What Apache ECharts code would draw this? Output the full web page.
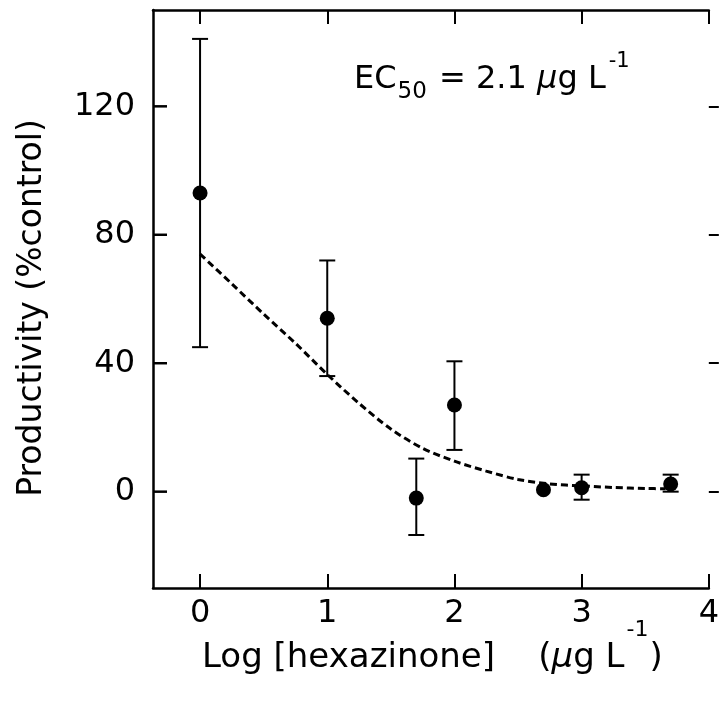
<!DOCTYPE html>
<html>
<head>
<meta charset="utf-8">
<script src="https://cdn.jsdelivr.net/npm/echarts@6.0.0/dist/echarts.min.js"></script>
<style>
html,body{margin:0;padding:0;background:#fff;}
#chart{width:722px;height:702px;}
</style>
</head>
<body>
<div id="chart"></div>
<script>
// Data points (log concentration, productivity % of control)
const pointX = [0, 1, 1.7, 2, 2.7, 3, 3.7];
const pointY = [93, 54, -2, 27, 0.6, 1.2, 2.4];
const errLow = [45, 36, -13.5, 13, null, -2.5, 0];
const errHigh = [141, 72, 10.3, 40.6, null, 5.3, 5.3];
// Fitted curve
const curveX = [0, 0.25, 0.5, 0.75, 1.0, 1.25, 1.5, 1.75, 2.0, 2.25, 2.5, 2.75, 3.0, 3.25, 3.5, 3.66];
const curveY = [74, 64.7, 55.3, 46.2, 36.5, 27.5, 19.5, 13.5, 9.5, 6.4, 3.8, 2.4, 1.8, 1.3, 1.0, 0.9];
// Ticks and axis ranges
const xTicks = [0, 1, 2, 3, 4];
const yTicks = [0, 40, 80, 120];
const xMin = -0.37, xMax = 4;
const yMin = -30, yMax = 150;

const FONT = '"DejaVu Sans", "Liberation Sans", Arial, sans-serif';
const chart = echarts.init(document.getElementById('chart'), null, {renderer: 'canvas'});

const pts = pointX.map((x, i) => [x, pointY[i]]);
const errs = pointX.map((x, i) => [x, errLow[i], errHigh[i]]).filter(d => d[1] !== null);
const curve = curveX.map((x, i) => [x, curveY[i]]);

const axisLineStyle = {color: '#000', width: 2.5};
const tickStyle = {color: '#000', width: 2};

chart.setOption({
  animation: false,
  backgroundColor: '#fff',
  grid: {left: 153, right: 10, top: 10, bottom: 114, containLabel: false},
  xAxis: [
    {
      type: 'value', min: xMin, max: xMax, position: 'bottom',
      axisLine: {show: true, onZero: false, lineStyle: axisLineStyle},
      axisTick: {show: true, inside: true, length: 14, lineStyle: tickStyle, customValues: xTicks},
      axisLabel: {show: true, color: '#000', fontSize: 32, fontFamily: FONT, margin: 10, customValues: xTicks, showMinLabel: true, showMaxLabel: true},
      splitLine: {show: false}
    },
    {
      type: 'value', min: xMin, max: xMax, position: 'top',
      axisLine: {show: true, onZero: false, lineStyle: axisLineStyle},
      axisTick: {show: true, inside: true, length: 14, lineStyle: tickStyle, customValues: xTicks},
      axisLabel: {show: false},
      splitLine: {show: false}
    }
  ],
  yAxis: [
    {
      type: 'value', min: yMin, max: yMax, position: 'left',
      axisLine: {show: true, onZero: false, lineStyle: axisLineStyle},
      axisTick: {show: false},
      axisLabel: {show: true, color: '#000', fontSize: 32, fontFamily: FONT, margin: 18, customValues: yTicks},
      splitLine: {show: false}
    },
    {
      type: 'value', min: yMin, max: yMax, position: 'right',
      axisLine: {show: false, onZero: false},
      axisTick: {show: true, inside: false, length: 10, lineStyle: tickStyle, customValues: yTicks},
      axisLabel: {show: false},
      splitLine: {show: false}
    }
  ],
  series: [
    {
      type: 'line', data: curve, smooth: 0.3, showSymbol: false, symbol: 'none',
      lineStyle: {color: '#000', width: 3, type: [7, 4]}, z: 2
    },
    {
      type: 'custom', data: errs, z: 3,
      renderItem: function (params, api) {
        const x = api.value(0);
        const lo = api.coord([x, api.value(1)]);
        const hi = api.coord([x, api.value(2)]);
        const hw = 8;
        const st = {stroke: '#000', lineWidth: 2};
        return {
          type: 'group',
          children: [
            {type: 'line', shape: {x1: lo[0], y1: lo[1], x2: hi[0], y2: hi[1]}, style: st},
            {type: 'line', shape: {x1: lo[0] - hw, y1: lo[1], x2: lo[0] + hw, y2: lo[1]}, style: st},
            {type: 'line', shape: {x1: hi[0] - hw, y1: hi[1], x2: hi[0] + hw, y2: hi[1]}, style: st}
          ]
        };
      }
    },
    {
      type: 'scatter', data: pts, symbol: 'circle', symbolSize: 15,
      itemStyle: {color: '#000', opacity: 1}, z: 4
    }
  ],
  graphic: [
    {
      type: 'text', left: 354, top: 51, z: 10,
      style: {
        text: '{m|EC}{sub|50}{m| = 2.1 }{mu|μ}{m|g L}{sup|-1}',
        rich: {
          m: {fontSize: 32, fontFamily: FONT, fill: '#000', lineHeight: 44, verticalAlign: 'middle'},
          mu: {fontSize: 32, fontFamily: FONT, fontStyle: 'italic', fill: '#000', lineHeight: 44, verticalAlign: 'middle'},
          sub: {fontSize: 23, fontFamily: FONT, fill: '#000', lineHeight: 30, verticalAlign: 'bottom', padding: [0, 2, 5, 1]},
          sup: {fontSize: 21, fontFamily: FONT, fill: '#000', lineHeight: 58, verticalAlign: 'top', padding: [0, 0, 0, 3]}
        }
      }
    },
    {
      type: 'text', left: 202, top: 619, z: 10,
      style: {
        text: '{m|Log [hexazinone]    (}{mu|μ}{m|g L}{sup|-1}{m|)}',
        rich: {
          m: {fontSize: 34, fontFamily: FONT, fill: '#000', lineHeight: 48, verticalAlign: 'middle'},
          mu: {fontSize: 34, fontFamily: FONT, fontStyle: 'italic', fill: '#000', lineHeight: 48, verticalAlign: 'middle'},
          sup: {fontSize: 22, fontFamily: FONT, fill: '#000', lineHeight: 78, verticalAlign: 'top', padding: [0, 1, 0, 2]}
        }
      }
    },
    {
      type: 'text', x: 32, y: 308, rotation: Math.PI / 2, z: 10,
      style: {
        text: 'Productivity (%control)', fontSize: 33, fontFamily: FONT, fill: '#000',
        align: 'center', verticalAlign: 'middle'
      }
    }
  ]
});

// Inward tick marks on the left axis, positioned through the chart's own scale
const leftTicks = yTicks.map(function (v, i) {
  const p = chart.convertToPixel({xAxisIndex: 0, yAxisIndex: 0}, [xMin, v]);
  return {
    type: 'line', id: 'ltick' + i, z: 20,
    shape: {x1: p[0], y1: p[1], x2: p[0] + 14, y2: p[1]},
    style: {stroke: '#000', lineWidth: 2.5}
  };
});
chart.setOption({graphic: leftTicks});
</script>
</body>
</html>
